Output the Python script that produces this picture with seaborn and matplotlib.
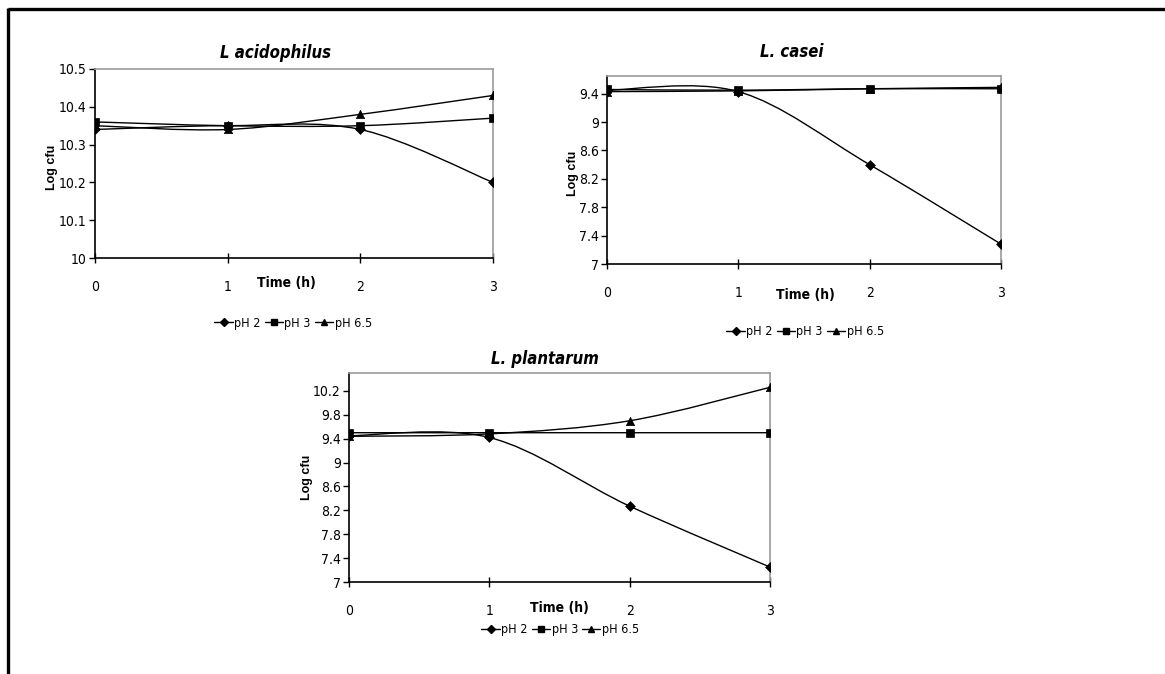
import numpy as np
import pandas as pd
import matplotlib
matplotlib.use("Agg")
import matplotlib.pyplot as plt
import seaborn as sns
from matplotlib.path import Path
from matplotlib.patches import PathPatch
from matplotlib.lines import Line2D
from matplotlib import font_manager

# ---------------- data ----------------
times = [0, 1, 2, 3]
series_names = ["pH 2", "pH 3", "pH 6.5"]

acid_ph2 = [10.34, 10.35, 10.34, 10.20]
acid_ph3 = [10.36, 10.35, 10.35, 10.37]
acid_ph65 = [10.35, 10.34, 10.38, 10.43]

casei_ph2 = [9.45, 9.43, 8.40, 7.28]
casei_ph3 = [9.46, 9.45, 9.47, 9.47]
casei_ph65 = [9.43, 9.44, 9.47, 9.49]

plant_ph2 = [9.45, 9.42, 8.27, 7.25]
plant_ph3 = [9.50, 9.50, 9.50, 9.50]
plant_ph65 = [9.44, 9.48, 9.70, 10.26]

titles = ["L acidophilus", "L. casei", "L. plantarum"]
acid_yticks = [10, 10.1, 10.2, 10.3, 10.4, 10.5]
acid_ylabels = ["10", "10.1", "10.2", "10.3", "10.4", "10.5"]
casei_yticks = [7, 7.4, 7.8, 8.2, 8.6, 9, 9.4]
casei_ylabels = ["7", "7.4", "7.8", "8.2", "8.6", "9", "9.4"]
plant_yticks = [7, 7.4, 7.8, 8.2, 8.6, 9, 9.4, 9.8, 10.2]
plant_ylabels = ["7", "7.4", "7.8", "8.2", "8.6", "9", "9.4", "9.8", "10.2"]
xtick_labels = ["0", "1", "2", "3"]

# ---------------- style ----------------
sns.set_theme(style="white")

names = {f.name for f in font_manager.fontManager.ttflist}
cond = [f for f in font_manager.fontManager.ttflist
        if ("condensed" in str(f.stretch).lower() or "narrow" in f.fname.lower()
            or "condensed" in f.fname.lower())]
STRETCH = "normal"
if "Liberation Sans Narrow" in names:
    MAIN = "Liberation Sans Narrow"
elif any(f.name in ("DejaVu Sans", "Roboto", "Open Sans", "Noto Sans") for f in cond):
    MAIN = [f.name for f in cond if f.name in ("Roboto", "DejaVu Sans", "Open Sans", "Noto Sans")][0]
    STRETCH = "condensed"
else:
    MAIN = "Liberation Sans"
NARROW = [MAIN, "DejaVu Sans"]
plt.rcParams["font.family"] = NARROW
plt.rcParams["font.stretch"] = STRETCH
for key in ["text.color", "axes.labelcolor", "xtick.color", "ytick.color"]:
    plt.rcParams[key] = "black"

W, H = 1165, 674
fig = plt.figure(figsize=(W / 100, H / 100), dpi=100)

markers = {"pH 2": "D", "pH 3": "s", "pH 6.5": "^"}
msizes = {"pH 2": 5, "pH 3": 6, "pH 6.5": 6}


def smooth_path(xs, ys):
    pts = np.column_stack([xs, ys]).astype(float)
    n = len(pts)
    verts = [pts[0]]
    codes = [Path.MOVETO]
    for i in range(n - 1):
        p0 = pts[max(i - 1, 0)]
        p1 = pts[i]
        p2 = pts[i + 1]
        p3 = pts[min(i + 2, n - 1)]
        c1 = p1 + (p2 - p0) / 6.0
        c2 = p2 - (p3 - p1) / 6.0
        verts += [c1, c2, p2]
        codes += [Path.CURVE4] * 3
    return Path(verts, codes)


def panel(rect, values, yticks, ylabels, ylim, title, title_px,
          tlabel_ax, ylabel_ax, legend_px):
    ax = fig.add_axes(rect)
    df = pd.DataFrame({
        "time": times * 3,
        "value": values[0] + values[1] + values[2],
        "pH": sum([[s] * 4 for s in series_names], []),
    })
    for name, vals in zip(series_names, values):
        patch = PathPatch(smooth_path(times, vals), facecolor="none",
                          edgecolor="black", lw=1.0, zorder=2)
        ax.add_patch(patch)
    for name in series_names:
        sub = df[df["pH"] == name]
        sns.scatterplot(data=sub, x="time", y="value", ax=ax,
                        marker=markers[name], color="black",
                        s=msizes[name] ** 2, edgecolor="black",
                        linewidth=0.5, zorder=3, legend=False)
    ax.set_xlim(0, 3)
    ax.set_ylim(*ylim)
    ax.set_xticks(times)
    ax.set_xticklabels(xtick_labels, fontsize=10)
    ax.set_yticks(yticks)
    ax.set_yticklabels(ylabels, fontsize=10)
    ax.set_xlabel("")
    ax.set_ylabel("Log cfu", fontsize=9, fontweight="bold",
                  family=["Liberation Sans", "DejaVu Sans"], stretch="normal")
    ax.yaxis.set_label_coords(*ylabel_ax)
    ax.tick_params(axis="x", direction="inout", length=7, width=1,
                   color="black", pad=12, bottom=True)
    ax.tick_params(axis="y", direction="out", length=4, width=1,
                   color="black", pad=2, left=True)
    for s in ["left", "bottom"]:
        ax.spines[s].set_color("black")
        ax.spines[s].set_linewidth(1.2)
    for s in ["top", "right"]:
        ax.spines[s].set_color("#9a9a9a")
        ax.spines[s].set_linewidth(1.2)
    ax.text(tlabel_ax[0], tlabel_ax[1], "Time (h)", transform=ax.transAxes,
            ha="center", va="center", fontsize=10, fontweight="bold")
    fig.text(title_px[0] / W, 1 - title_px[1] / H, title, ha="center",
             va="center", fontsize=12, fontweight="bold", style="italic")
    handles = [Line2D([], [], color="black", lw=1, marker=markers[n],
                      markersize=msizes[n] - 1, markerfacecolor="black")
               for n in series_names]
    fig.legend(handles, series_names, loc="center",
               bbox_to_anchor=(legend_px[0] / W, 1 - legend_px[1] / H),
               ncol=3, frameon=False, fontsize=9, handlelength=1.5,
               handletextpad=0.1, columnspacing=0.3, borderpad=0)
    return ax


def rect_px(l, t, r, b):
    return [l / W, 1 - b / H, (r - l) / W, (b - t) / H]


panel(rect_px(95, 69, 493, 258), [acid_ph2, acid_ph3, acid_ph65],
      acid_yticks, acid_ylabels, (10, 10.5), titles[0], (275, 53),
      (0.482, -0.132), (-0.092, 0.48), (293, 323))
panel(rect_px(607, 76, 1001, 264), [casei_ph2, casei_ph3, casei_ph65],
      casei_yticks, casei_ylabels, (7, 9.65), titles[1], (792, 52),
      (0.503, -0.165), (-0.072, 0.484), (805, 332))
panel(rect_px(349, 373, 770, 582), [plant_ph2, plant_ph3, plant_ph65],
      plant_yticks, plant_ylabels, (7, 10.5), titles[2], (545, 359),
      (0.501, -0.124), (-0.085, 0.50), (560, 630))

# outer frame (top and left only)
fig.add_artist(Line2D([7.5 / W, 1], [1 - 8.5 / H, 1 - 8.5 / H], color="black",
                      lw=2.4, transform=fig.transFigure, solid_capstyle="butt"))
fig.add_artist(Line2D([7.5 / W, 7.5 / W], [1 - 7.5 / H, 0], color="black",
                      lw=2.4, transform=fig.transFigure, solid_capstyle="butt"))

fig.savefig("out.png", dpi=100, facecolor="white")
